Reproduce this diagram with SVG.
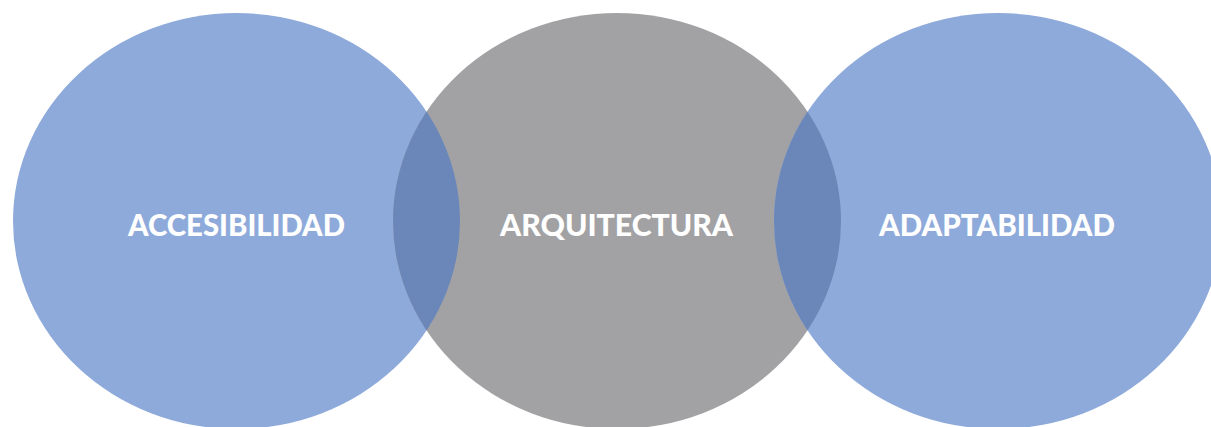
<svg xmlns="http://www.w3.org/2000/svg" width="1211" height="427" viewBox="0 0 1211 427">
<style>
.blue{fill:#8EAADB}
.gray{fill:#A2A2A4}
.lens{fill:#6B87B9}
.lbl{font-family:Lato,"Open Sans","Liberation Sans",sans-serif;font-weight:900;font-size:31px;fill:#FFFFFF;text-anchor:middle}
</style>
<defs>
<clipPath id="cGray"><ellipse cx="617" cy="221" rx="224" ry="208"/></clipPath>
</defs>
<rect width="1211" height="427" fill="#FFFFFF"/>
<g id="node-accesibilidad">
<ellipse class="blue" cx="236.5" cy="221" rx="223.5" ry="208"/>
</g>
<g id="node-arquitectura">
<ellipse class="gray" cx="617" cy="221" rx="224" ry="208"/>
</g>
<g id="node-adaptabilidad">
<ellipse class="blue" cx="998" cy="221" rx="224" ry="208"/>
</g>
<g id="overlaps" clip-path="url(#cGray)">
<ellipse class="lens" cx="236.5" cy="221" rx="223.5" ry="208"/>
<ellipse class="lens" cx="998" cy="221" rx="224" ry="208"/>
</g>
<g id="labels">
<text class="lbl" x="236.5" y="236" textLength="217" lengthAdjust="spacingAndGlyphs">ACCESIBILIDAD</text>
<text class="lbl" x="616.5" y="236" textLength="233" lengthAdjust="spacingAndGlyphs">ARQUITECTURA</text>
<text class="lbl" x="997" y="236" textLength="236" lengthAdjust="spacingAndGlyphs">ADAPTABILIDAD</text>
</g>
<g id="connectors"/>
</svg>
